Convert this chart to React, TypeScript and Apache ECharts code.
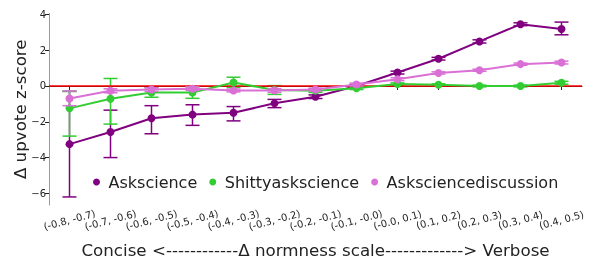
import React, { useEffect, useRef } from "react";
import * as echarts from "echarts";

const categories = [
  "(-0.8, -0.7)", "(-0.7, -0.6)", "(-0.6, -0.5)", "(-0.5, -0.4)", "(-0.4, -0.3)",
  "(-0.3, -0.2)", "(-0.2, -0.1)", "(-0.1, -0.0)", "(-0.0, 0.1)", "(0.1, 0.2)",
  "(0.2, 0.3)", "(0.3, 0.4)", "(0.4, 0.5)",
];

const askscience = [-3.25, -2.57, -1.8, -1.6, -1.5, -0.97, -0.6, 0.0, 0.75, 1.52, 2.49, 3.45, 3.18];
const askscienceLow = [-6.2, -4.0, -2.67, -2.2, -1.95, -1.21, -0.7, -0.08, 0.67, 1.45, 2.4, 3.37, 2.86];
const askscienceHigh = [-0.3, -1.35, -1.1, -1.05, -1.15, -0.75, -0.5, 0.08, 0.83, 1.6, 2.58, 3.53, 3.57];

const shitty = [-1.25, -0.71, -0.37, -0.37, 0.19, -0.22, -0.26, -0.13, 0.11, 0.07, 0.0, 0.0, 0.18];
const shittyLow = [-2.8, -2.13, -0.63, -0.69, -0.07, -0.47, -0.36, -0.2, 0.05, 0.02, -0.05, -0.05, 0.1];
const shittyHigh = [-0.3, 0.42, -0.1, -0.05, 0.49, 0.02, -0.16, -0.06, 0.17, 0.12, 0.05, 0.05, 0.26];

const discussion = [-0.7, -0.27, -0.2, -0.15, -0.25, -0.25, -0.2, 0.08, 0.38, 0.73, 0.88, 1.22, 1.31];
const discussionLow = [-1.1, -0.38, -0.3, -0.25, -0.33, -0.35, -0.28, 0.0, 0.3, 0.67, 0.82, 1.16, 1.23];
const discussionHigh = [-0.28, -0.16, -0.1, -0.05, -0.17, -0.15, -0.12, 0.16, 0.46, 0.79, 0.94, 1.28, 1.39];

const yTicks = [-6, -4, -2, 0, 2, 4];

const FONT = "DejaVu Sans";

function errSeries(name: string, lo: number[], hi: number[], color: string, z: number) {
  return {
    type: "custom",
    name,
    z,
    silent: true,
    encode: { x: 0, y: [1, 2] },
    data: lo.map((l, i) => [i, l, hi[i]]),
    renderItem: (params: any, api: any) => {
      const x = api.value(0);
      const pLo = api.coord([x, api.value(1)]);
      const pHi = api.coord([x, api.value(2)]);
      const hw = 7;
      const style = { stroke: color, lineWidth: 1.5 };
      return {
        type: "group",
        children: [
          { type: "line", shape: { x1: pLo[0], y1: pLo[1], x2: pHi[0], y2: pHi[1] }, style },
          { type: "line", shape: { x1: pLo[0] - hw, y1: pLo[1], x2: pLo[0] + hw, y2: pLo[1] }, style },
          { type: "line", shape: { x1: pHi[0] - hw, y1: pHi[1], x2: pHi[0] + hw, y2: pHi[1] }, style },
        ],
      };
    },
  };
}

function lineSeries(name: string, data: number[], color: string, z: number) {
  return {
    type: "line",
    name,
    z,
    data,
    symbol: "circle",
    symbolSize: 8,
    showSymbol: true,
    lineStyle: { color, width: 2 },
    itemStyle: { color },
  };
}

export default function App() {
  const ref = useRef<HTMLDivElement>(null);
  useEffect(() => {
    if (!ref.current) return;
    const chart = echarts.init(ref.current, null, { renderer: "svg" });
    const purple = "#800080";
    const green = "#32CD32";
    const pink = "#DA70D6";
    chart.setOption({
      animation: false,
      textStyle: { fontFamily: FONT },
      grid: { left: 49, right: 7, top: 13.5, bottom: 59, containLabel: false, outerBoundsMode: "none" },
      legend: {
        data: ["Askscience", "Shittyaskscience", "Asksciencediscussion"],
        icon: "circle",
        itemWidth: 14,
        itemHeight: 7,
        itemGap: 12,
        left: 88,
        top: 169,
        textStyle: { fontFamily: FONT, fontSize: 16, color: "#222" },
      },
      xAxis: {
        type: "category",
        data: categories,
        boundaryGap: true,
        axisLine: { show: true, lineStyle: { color: "#222", width: 1 } },
        axisTick: { show: true, alignWithLabel: true, length: 4, lineStyle: { color: "#222" } },
        axisLabel: {
          interval: 0,
          rotate: 15,
          align: "center",
          verticalAlign: "middle",
          margin: 15,
          fontSize: 10,
          fontFamily: FONT,
          color: "#222",
        },
        name: "Concise <------------Δ normness scale-------------> Verbose",
        nameLocation: "middle",
        nameGap: 36,
        nameMoveOverlap: false,
        nameTextStyle: { fontFamily: FONT, fontSize: 16.7, color: "#222" },
        splitLine: { show: false },
      },
      yAxis: {
        type: "value",
        min: -6.65,
        max: 4.05,
        axisLine: { show: true, lineStyle: { color: "#999", width: 1 } },
        axisTick: { show: true, length: 4, customValues: yTicks, lineStyle: { color: "#222" } },
        axisLabel: {
          customValues: yTicks,
          fontSize: 10,
          fontFamily: FONT,
          color: "#222",
          margin: 3,
          formatter: (v: number) => String(v).replace("-", "\u2212"),
        },
        splitLine: { show: false },
        name: "Δ upvote z-score",
        nameLocation: "middle",
        nameGap: 21,
        nameMoveOverlap: false,
        nameTextStyle: { fontFamily: FONT, fontSize: 16.7, color: "#222" },
      },
      series: [
        {
          type: "line",
          name: "zero",
          data: [],
          z: 1,
          markLine: {
            silent: true,
            symbol: "none",
            label: { show: false },
            lineStyle: { color: "#ff0000", width: 1.5, type: "solid" },
            data: [{ yAxis: 0 }],
          },
        },
        errSeries("errA", askscienceLow, askscienceHigh, purple, 2),
        lineSeries("Askscience", askscience, purple, 3),
        errSeries("errS", shittyLow, shittyHigh, green, 4),
        lineSeries("Shittyaskscience", shitty, green, 5),
        errSeries("errD", discussionLow, discussionHigh, pink, 6),
        lineSeries("Asksciencediscussion", discussion, pink, 7),
      ],
    });
    return () => chart.dispose();
  }, []);
  return (
    <div
      ref={ref}
      style={{ position: "fixed", left: 0, top: 0, width: 589, height: 264 }}
    />
  );
}
